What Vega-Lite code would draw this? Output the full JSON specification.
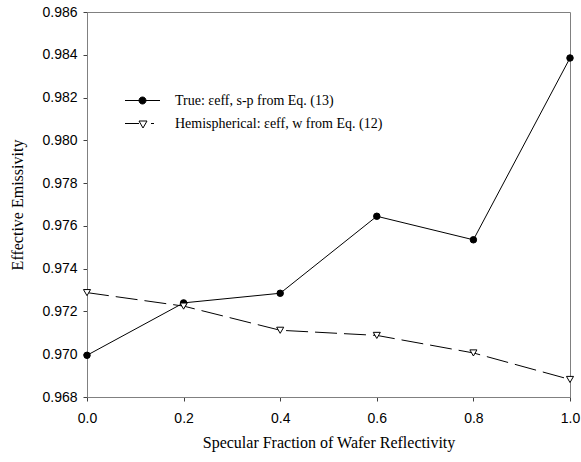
{
  "$schema": "https://vega.github.io/schema/vega-lite/v6.json",
  "autosize": {"type": "none"},
  "padding": {"left": 87, "top": 12, "right": 11, "bottom": 65},
  "width": 483,
  "height": 385,
  "background": "white",
  "config": {
    "view": {"stroke": "#808080", "strokeWidth": 1},
    "axis": {
      "grid": false,
      "domainColor": "#808080",
      "tickColor": "#404040",
      "tickSize": 4,
      "labelFlush": false,
      "labelFont": "Liberation Sans",
      "labelFontSize": 14,
      "labelColor": "black",
      "titleFont": "Liberation Serif",
      "titleFontSize": 16,
      "titleFontWeight": "normal",
      "titleColor": "black"
    }
  },
  "data": {
    "values": [
      {"x": 0.0, "y": 0.96995, "series": "True: εeff, s-p  from Eq. (13)"},
      {"x": 0.2, "y": 0.9724, "series": "True: εeff, s-p  from Eq. (13)"},
      {"x": 0.4, "y": 0.97285, "series": "True: εeff, s-p  from Eq. (13)"},
      {"x": 0.6, "y": 0.97645, "series": "True: εeff, s-p  from Eq. (13)"},
      {"x": 0.8, "y": 0.97535, "series": "True: εeff, s-p  from Eq. (13)"},
      {"x": 1.0, "y": 0.98385, "series": "True: εeff, s-p  from Eq. (13)"},
      {"x": 0.0, "y": 0.97288, "series": "Hemispherical: εeff, w from Eq. (12)"},
      {"x": 0.2, "y": 0.97225, "series": "Hemispherical: εeff, w from Eq. (12)"},
      {"x": 0.4, "y": 0.97112, "series": "Hemispherical: εeff, w from Eq. (12)"},
      {"x": 0.6, "y": 0.97088, "series": "Hemispherical: εeff, w from Eq. (12)"},
      {"x": 0.8, "y": 0.97006, "series": "Hemispherical: εeff, w from Eq. (12)"},
      {"x": 1.0, "y": 0.96882, "series": "Hemispherical: εeff, w from Eq. (12)"}
    ]
  },
  "encoding": {
    "x": {
      "field": "x", "type": "quantitative",
      "scale": {"domain": [0, 1], "nice": false, "zero": false},
      "axis": {"values": [0, 0.2, 0.4, 0.6, 0.8, 1.0], "format": ".1f", "title": "Specular Fraction of Wafer Reflectivity", "labelPadding": 10, "titlePadding": 9}
    },
    "y": {
      "field": "y", "type": "quantitative",
      "scale": {"domain": [0.968, 0.986], "nice": false, "zero": false},
      "axis": {"values": [0.968, 0.970, 0.972, 0.974, 0.976, 0.978, 0.980, 0.982, 0.984, 0.986], "format": ".3f", "title": "Effective Emissivity", "labelPadding": 6, "titlePadding": 16}
    }
  },
  "layer": [
    {
      "transform": [{"filter": "indexof(datum.series, 'True') === 0"}],
      "mark": {"type": "line", "color": "black", "strokeWidth": 1},
      "encoding": {}
    },
    {
      "transform": [{"filter": "indexof(datum.series, 'Hemi') === 0"}],
      "mark": {"type": "line", "color": "black", "strokeWidth": 1, "strokeDash": [22, 7]},
      "encoding": {}
    },
    {
      "transform": [{"filter": "indexof(datum.series, 'True') === 0"}],
      "mark": {"type": "point", "shape": "circle", "filled": true, "fill": "black", "stroke": "black", "strokeWidth": 1, "opacity": 1, "size": 42},
      "encoding": {}
    },
    {
      "transform": [{"filter": "indexof(datum.series, 'Hemi') === 0"}],
      "mark": {"type": "point", "shape": "triangle-down", "filled": true, "fill": "white", "stroke": "black", "strokeWidth": 1, "opacity": 1, "size": 50},
      "encoding": {}
    },
    {
      "mark": {"type": "point", "filled": true, "stroke": "black", "strokeWidth": 1, "opacity": 1},
      "encoding": {
        "shape": {
          "field": "series", "type": "nominal",
          "scale": {
            "domain": ["True: εeff, s-p  from Eq. (13)", "Hemispherical: εeff, w from Eq. (12)"],
            "range": [
              "M-1.75,0L1.75,0M0.35,0A0.35,0.35 0 1,1 -0.35,0A0.35,0.35 0 1,1 0.35,0Z",
              "M-1.75,0L-0.35,0M0.85,0L1.15,0M-0.35,-0.25L0.45,-0.25L0.05,0.45Z"
            ]
          },
          "legend": {
            "title": null,
            "orient": "none",
            "legendX": 45,
            "legendY": 78,
            "symbolSize": 400,
            "symbolOpacity": 1,
            "symbolStrokeColor": "black",
            "symbolStrokeWidth": 1,
            "labelFont": "Liberation Serif",
            "labelFontSize": 14,
            "labelColor": "black",
            "labelLimit": 500,
            "labelOffset": 22,
            "rowPadding": 5
          }
        },
        "color": {
          "field": "series", "type": "nominal",
          "scale": {"domain": ["True: εeff, s-p  from Eq. (13)", "Hemispherical: εeff, w from Eq. (12)"], "range": ["black", "white"]}
        },
        "size": {"value": 0}
      }
    }
  ]
}
